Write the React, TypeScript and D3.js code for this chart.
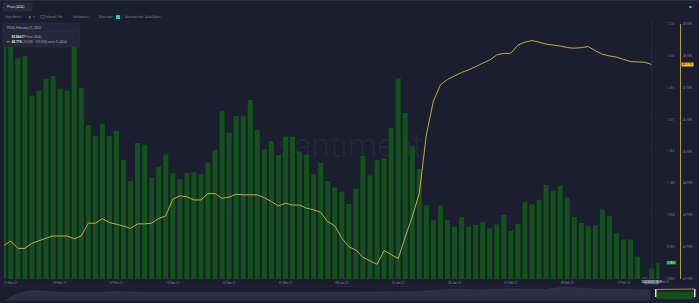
import React from "react";
import * as d3 from "d3";

// ---------- DATA ----------
const startDate = new Date(2021, 10, 21);
const endDate = new Date(2022, 1, 23);
const days: Date[] = d3.timeDay.range(startDate, endDate); // 94 daily categories

// Price (ADA), USD, one per day
const priceValues = [
  1.70, 1.69, 1.597, 1.606, 1.462, 1.481, 1.524, 1.533, 1.488, 1.481,
  1.66, 1.490, 1.358, 1.318, 1.362, 1.319, 1.336, 1.232, 1.156, 1.293,
  1.287, 1.168, 1.208, 1.252, 1.184, 1.163, 1.185, 1.188, 1.181, 1.222,
  1.268, 1.409, 1.330, 1.390, 1.391, 1.447, 1.340, 1.271, 1.300, 1.250,
  1.316, 1.316, 1.262, 1.251, 1.181, 1.222, 1.157, 1.133, 1.118, 1.075,
  1.129, 1.246, 1.176, 1.232, 1.238, 1.348, 1.525, 1.401, 1.282, 1.200,
  1.069, 1.016, 1.069, 1.016, 0.993, 1.027, 0.993, 0.999, 1.010, 0.987,
  1.001, 1.035, 0.978, 1.003, 1.082, 1.073, 1.088, 1.142, 1.122, 1.139,
  1.098, 1.027, 1.006, 0.994, 0.998, 1.054, 1.031, 0.969, 0.947, 0.947,
  0.885, 0.813, 0.843, 0.863,
];

// [10,000 - 100,000] coins % (ADA), one per day (ends at crosshair day)
const pctValues = [
  43.03, 43.17, 42.94, 42.94, 43.10, 43.18, 43.26, 43.33, 43.33, 43.33,
  43.24, 43.33, 43.73, 43.73, 43.87, 43.75, 43.70, 43.64, 43.57, 43.71,
  43.71, 43.73, 43.88, 43.96, 44.48, 44.59, 44.56, 44.46, 44.46, 44.66,
  44.66, 44.51, 44.55, 44.64, 44.62, 44.62, 44.62, 44.53, 44.41, 44.27,
  44.36, 44.30, 44.30, 44.20, 44.15, 44.07, 43.78, 43.65, 43.26, 42.99,
  42.89, 42.66, 42.55, 42.44, 42.87, 42.75, 42.62, 43.30, 43.93, 44.67,
  46.50, 47.56, 48.07, 48.24, 48.35, 48.46, 48.54, 48.64, 48.75, 48.85,
  49.01, 49.06, 49.06, 49.32, 49.41, 49.46, 49.41, 49.35, 49.32, 49.29,
  49.24, 49.22, 49.24, 49.27, 49.14, 49.03, 48.98, 48.94, 48.87, 48.80,
  48.79, 48.78, 48.71,
];

const priceTicks = [0.805, 0.920, 1.034, 1.148, 1.263, 1.377, 1.491, 1.606, 1.720];
const pctTicks = [41.98, 42.98, 43.98, 44.98, 45.98, 46.98, 47.98, 48.98, 49.98];

const xTickDays = [0, 8, 16, 24, 32, 40, 48, 56, 64, 72, 80, 88];
const xTickLabels = [
  "21 Nov 21", "29 Nov 21", "07 Dec 21", "15 Dec 21", "23 Dec 21", "31 Dec 21",
  "08 Jan 22", "16 Jan 22", "24 Jan 22", "01 Feb 22", "09 Feb 22", "17 Feb 22",
];

// navigator mini-chart (long history, relative heights)
const navValues = [0, 0.75, 0.62, 0.6, 0.66, 0.62, 0.6, 0.6, 0.61, 0.6, 0.6, 0.61, 0.62, 0.63, 0.66, 0.72, 0.85, 0.8, 0.9, 0.84, 1.0, 0.88, 0.84, 0.8];

const crosshairIndex = 92;
const legendDate = "19:00, February 21, 2022";
const legendPrice = "$0.86617";
const legendPct = "48.71%";

// ---------- LAYOUT ----------
const W = 699;
const H = 303;
const plotTop = 22;
const plotBottom = 279;
const plotLeft = 4;
const plotRight = 659.5;

const BG = "#1b1e2e";
const BAR = "#13531b";
const LINE = "#c4aa45";
const GRID = "#1f2233";
const TXT = "#7d8299";
const FONT = "Roboto, 'Noto Sans', sans-serif";

export default function App() {
  const x = d3
    .scaleBand<Date>()
    .domain(days)
    .range([-0.78, 663.3])
    .padding(0.29);
  const cx = (i: number) => (x(days[i]) as number) + x.bandwidth() / 2;

  const yPrice = d3.scaleLinear().domain([0.805, 1.72]).range([279, 24]);
  const yPct = d3.scaleLinear().domain([41.98, 49.98]).range([279, 24]);

  const linePath = d3
    .line<number>()
    .x((_, i) => cx(i))
    .y((d) => yPct(d))(pctValues) as string;

  const navX = d3.scaleLinear().domain([0, navValues.length - 1]).range([5, 650]);
  const navY = d3.scaleLinear().domain([0, 1]).range([300.5, 287.5]);
  const navArea = d3
    .area<number>()
    .x((_, i) => navX(i))
    .y0(300.5)
    .y1((d) => navY(d))
    .curve(d3.curveMonotoneX)(navValues) as string;
  const navLine = d3
    .line<number>()
    .x((_, i) => navX(i))
    .y((d) => navY(d))
    .curve(d3.curveMonotoneX)(navValues) as string;

  const crossX = cx(crosshairIndex);

  return (
    <svg
      width={W}
      height={H}
      style={{ position: "absolute", left: 0, top: 0, display: "block" }}
      fontFamily={FONT}
    >
      <defs>
        <clipPath id="plot">
          <rect x={plotLeft} y={plotTop} width={plotRight - plotLeft} height={plotBottom - plotTop} />
        </clipPath>
      </defs>
      <rect x={0} y={0} width={W} height={H} fill={BG} />
      <line x1={0} x2={W} y1={0.5} y2={0.5} stroke="#2c3044" />

      {/* header */}
      <rect x={3} y={3} width={29} height={8} rx={1} fill="#262a3c" stroke="#33384d" strokeWidth={0.5} />
      <text x={7} y={8.3} fontSize={3.4} fill="#d5d8e6">Price (ADA)</text>
      <g fontSize={3} fill={TXT}>
        <text x={5} y={18}>Style: Bars ▾</text>
        <text x={29} y={18} fill="#2ecc71">▮</text>
        <text x={33} y={18}>▾</text>
        <rect x={41} y={15.6} width={3.2} height={2.6} fill="none" stroke={TXT} strokeWidth={0.4} />
        <text x={46} y={18}>Interval: 1d ▾</text>
        <text x={73} y={18}>Indicators ▾</text>
        <text x={99} y={18}>Show axis</text>
        <rect x={116} y={15} width={4} height={4} rx={0.6} fill="#2fd4a0" />
        <text x={125} y={18}>Axis max/min: Auto/Auto ▾</text>
      </g>
      <rect x={689.5} y={6} width={2} height={2} fill="#2ee86b" />

      {/* grid */}
      <g stroke={GRID} strokeWidth={0.5}>
        {priceTicks.map((t) => (
          <line key={"h" + t} x1={plotLeft} x2={plotRight} y1={yPrice(t)} y2={yPrice(t)} />
        ))}
        {xTickDays.map((d) => (
          <line key={"v" + d} x1={cx(d)} x2={cx(d)} y1={plotTop} y2={plotBottom} />
        ))}
      </g>

      {/* watermark */}
      <text x={350} y={157} textAnchor="middle" fontSize={33} fill="#242839" fontWeight={300}>
        santiment
      </text>

      {/* bars */}
      <g clipPath="url(#plot)">
        {priceValues.map((v, i) => (
          <rect
            key={i}
            x={x(days[i])}
            y={yPrice(v)}
            width={x.bandwidth()}
            height={plotBottom - yPrice(v)}
            fill={BAR}
          />
        ))}
        <path d={linePath} fill="none" stroke={LINE} strokeWidth={1} strokeLinejoin="round" />
      </g>

      {/* crosshair */}
      <line x1={crossX} x2={crossX} y1={plotTop} y2={plotBottom} stroke="#363b52" strokeWidth={0.6} />

      {/* x axis labels */}
      <g fontSize={3} fill={TXT} textAnchor="middle">
        {xTickDays.map((d, i) => (
          <text key={d} x={Math.max(cx(d), 11)} y={283.5}>
            {xTickLabels[i]}
          </text>
        ))}
      </g>
      <rect x={644} y={280.3} width={15} height={4} rx={0.6} fill="#5d6380" />
      <text x={651.5} y={283.3} fontSize={2.6} fill="#e4e7f2" textAnchor="middle">2022-02-21 19:00</text>
      <text x={661} y={283.3} fontSize={2.6} fill={TXT}>Feb 22</text>

      {/* right axes */}
      <g fontSize={2.9} fill={TXT}>
        {priceTicks.map((t) => (
          <text key={"p" + t} x={667} y={yPrice(t) + 1}>
            {t.toFixed(3)}
          </text>
        ))}
        {pctTicks.map((t) => (
          <text key={"q" + t} x={683} y={yPct(t) + 1}>
            {t.toFixed(2) + "%"}
          </text>
        ))}
      </g>
      <line x1={680.5} x2={680.5} y1={yPct(49.98)} y2={yPct(41.98)} stroke={LINE} strokeWidth={0.9} />
      <rect x={666.5} y={yPrice(priceValues[93]) - 2} width={10} height={4} rx={0.5} fill="#1f7a34" />
      <text x={667.5} y={yPrice(priceValues[93]) + 1} fontSize={2.9} fill="#d9ffe1">0.866</text>
      <rect x={681.5} y={yPct(48.71) - 2} width={12} height={4} rx={0.5} fill="#f2c232" />
      <text x={682.3} y={yPct(48.71) + 1} fontSize={2.9} fill="#1b1e2e">48.71%</text>

      {/* legend box */}
      <rect x={3} y={23} width={76.5} height={24} rx={1} fill="#23273a" stroke="#2e3347" strokeWidth={0.5} />
      <text x={6.5} y={28.5} fontSize={3.2} fill="#aeb3c7">{legendDate}</text>
      <line x1={3} x2={79.5} y1={31.5} y2={31.5} stroke="#2e3347" strokeWidth={0.5} />
      <text x={11.5} y={37.5} fontSize={3.1} fill="#e6e8f2" fontWeight={700}>
        {legendPrice}
        <tspan fill="#9aa0b8" fontWeight={400}> Price (ADA)</tspan>
      </text>
      <line x1={6.5} x2={9.5} y1={41.8} y2={41.8} stroke={LINE} strokeWidth={0.9} />
      <text x={11.5} y={42.8} fontSize={3.1} fill="#e6e8f2" fontWeight={700}>
        {legendPct}
        <tspan fill="#9aa0b8" fontWeight={400}> [10,000 - 100,000] coins % (ADA)</tspan>
      </text>

      {/* navigator */}
      <line x1={3} x2={697} y1={286.5} y2={286.5} stroke="#262a3b" strokeWidth={0.5} />
      <path d={navArea} fill="#2b3043" />
      <path d={navLine} fill="none" stroke="#3e4460" strokeWidth={0.5} />
      <rect x={656} y={288} width={39} height={11} fill="#1f2233" />
      <rect x={656.5} y={292} width={38} height={7} fill="#13501b" />
      <line x1={656.5} x2={694.5} y1={289.5} y2={289} stroke={LINE} strokeWidth={0.8} />
      <rect x={655} y={289} width={1.5} height={8} fill="#d8dbe6" />
      <rect x={694} y={289} width={1.5} height={8} fill="#d8dbe6" />
    </svg>
  );
}
